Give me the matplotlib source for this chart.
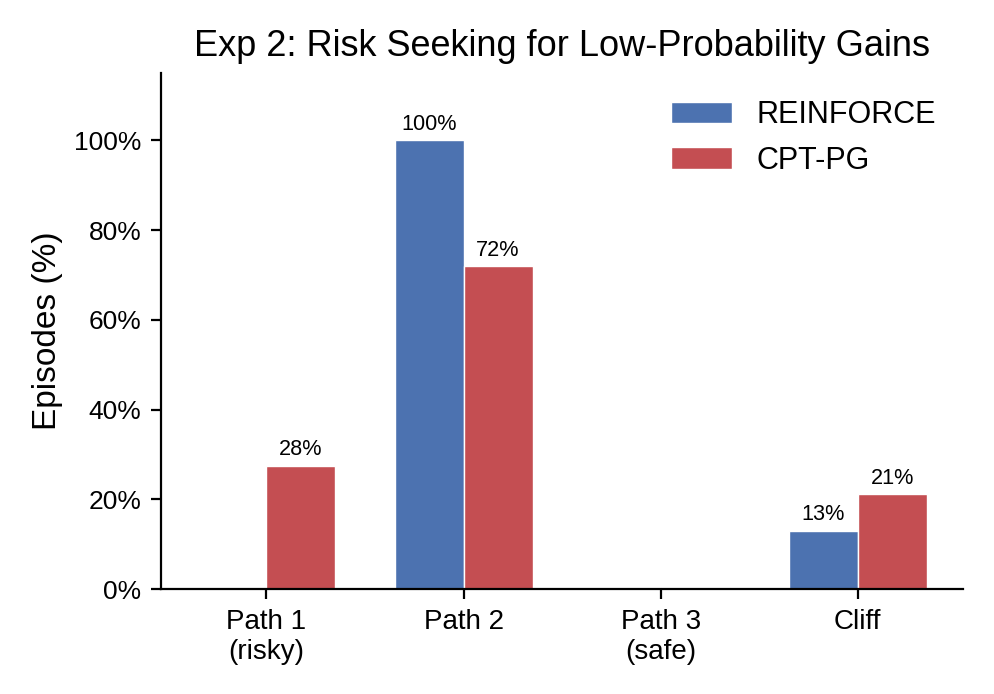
import matplotlib
matplotlib.use("Agg")
import matplotlib.pyplot as plt
import numpy as np
from matplotlib.ticker import FuncFormatter

plt.rcParams['font.family'] = ['Liberation Sans', 'DejaVu Sans']

categories = ['Path 1\n(risky)', 'Path 2', 'Path 3\n(safe)', 'Cliff']
reinforce = [0.0, 100.0, 0.0, 13.0]
cpt_pg = [27.5, 72.0, 0.5, 21.2]

fig = plt.figure(figsize=(4.97, 3.47), dpi=200)
ax = fig.add_axes([0.162, 0.151, 0.807, 0.744])

x = np.arange(len(categories))
w = 0.35
b1 = ax.bar(x - w / 2, reinforce, w, color='#4C72B0', edgecolor='white', linewidth=0.5, label='REINFORCE')
b2 = ax.bar(x + w / 2, cpt_pg, w, color='#C44E52', edgecolor='white', linewidth=0.5, label='CPT-PG')

# value labels on bars of 1% or more
for bars in (b1, b2):
    for bar in bars:
        h = bar.get_height()
        if h >= 1:
            ax.text(bar.get_x() + bar.get_width() / 2, h + 1.2, f'{h:.0f}%',
                    ha='center', va='bottom', fontsize=7.8)

ax.set_ylim(0, 115)
ax.set_yticks([0, 20, 40, 60, 80, 100])
ax.yaxis.set_major_formatter(FuncFormatter(lambda v, p: f'{v:.0f}%'))
ax.set_xticks(x)
ax.set_xticklabels(categories)
ax.tick_params(width=0.8, length=3.5)
ax.tick_params(axis='y', labelsize=9.5)
ax.tick_params(axis='x', labelsize=10)
ax.set_ylabel('Episodes (%)', fontsize=12)
ax.set_title('Exp 2: Risk Seeking for Low-Probability Gains', fontsize=13)

ax.spines['top'].set_visible(False)
ax.spines['right'].set_visible(False)
ax.legend(frameon=False, fontsize=11, loc='upper right')

fig.savefig('out.png', dpi=200)
